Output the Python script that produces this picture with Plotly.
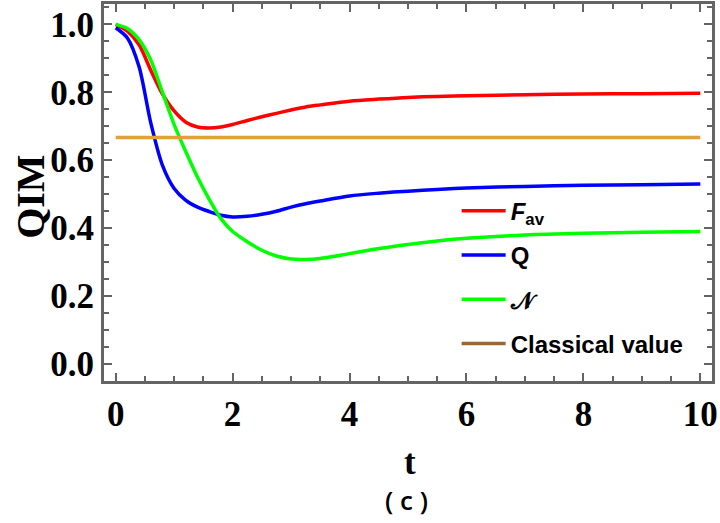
import plotly.graph_objects as go

# time grid and curves
t = [0, 0.2, 0.4, 0.6, 0.8, 1.0, 1.2, 1.4, 1.6, 1.8, 2.0, 2.25, 2.5, 2.75,
     3.0, 3.25, 3.5, 4.0, 4.5, 5.0, 5.5, 6, 7, 8, 9, 10]

f_av = [1.0, 0.98, 0.94, 0.865, 0.795, 0.745, 0.712, 0.698, 0.695, 0.698, 0.705,
        0.717, 0.728, 0.738, 0.748, 0.757, 0.763, 0.774, 0.780, 0.785, 0.788,
        0.790, 0.793, 0.795, 0.796, 0.797]

q = [0.99, 0.96, 0.875, 0.71, 0.585, 0.517, 0.482, 0.462, 0.449, 0.438, 0.433,
     0.435, 0.441, 0.450, 0.462, 0.472, 0.480, 0.495, 0.503, 0.509, 0.514,
     0.518, 0.523, 0.526, 0.528, 0.530]

neg = [1.0, 0.988, 0.955, 0.895, 0.80, 0.705, 0.625, 0.55, 0.485, 0.428, 0.39,
       0.36, 0.335, 0.318, 0.309, 0.308, 0.311, 0.325, 0.34, 0.352, 0.362,
       0.37, 0.38, 0.385, 0.388, 0.39]

t_classical = [0, 10]
classical = [0.667, 0.667]

x_ticks = [0, 2, 4, 6, 8, 10]
y_ticks = [0.0, 0.2, 0.4, 0.6, 0.8, 1.0]

GRAY = "#646464"
serif = dict(family="Liberation Serif", size=35, color="black", weight="bold")

fig = go.Figure()
fig.add_trace(go.Scatter(x=t, y=f_av, mode="lines", name="<i>F</i><sub>av</sub>",
                         line=dict(color="#FF0000", width=3.5, shape="spline", smoothing=0.8),
                         legendgroup="a"))
fig.add_trace(go.Scatter(x=t, y=q, mode="lines", name="Q",
                         line=dict(color="#0000FF", width=3.5, shape="spline", smoothing=0.8),
                         legendgroup="b"))
fig.add_trace(go.Scatter(x=t, y=neg, mode="lines", name="\U0001D4A9",
                         line=dict(color="#00FF00", width=3.5, shape="spline", smoothing=0.8),
                         legendgroup="c"))
fig.add_trace(go.Scatter(x=t_classical, y=classical, mode="lines", showlegend=False,
                         line=dict(color="#E1A03A", width=3.5)))
# legend swatch for the classical value is brown in the original
fig.add_trace(go.Scatter(x=[None], y=[None], mode="lines", name="Classical value",
                         line=dict(color="#9A6633", width=3.5), legendgroup="d"))

axis_common = dict(
    showline=True, linewidth=3, linecolor=GRAY, mirror="allticks",
    ticks="inside", ticklen=8, tickwidth=2, tickcolor=GRAY,
    showgrid=False, zeroline=False, tickfont=serif,
    automargin=False, ticklabeloverflow="allow",
)

fig.update_xaxes(range=[-0.2, 10.2], tickvals=x_ticks, ticktext=[str(v) for v in x_ticks],
                 minor=dict(dtick=0.5, ticks="inside", ticklen=5, tickwidth=2, tickcolor=GRAY),
                 **axis_common)
fig.update_yaxes(range=[-0.05, 1.06], tickvals=y_ticks, ticktext=["%.1f" % v for v in y_ticks],
                 minor=dict(dtick=0.05, ticks="inside", ticklen=5, tickwidth=2, tickcolor=GRAY),
                 **axis_common)

fig.update_layout(
    width=720, height=523,
    margin=dict(l=104, r=8, t=4, b=142),
    paper_bgcolor="white", plot_bgcolor="white",
    legend=dict(x=0.58, y=0.51, xanchor="left", yanchor="top",
                bgcolor="rgba(0,0,0,0)", tracegroupgap=10, itemwidth=44,
                font=dict(family="Liberation Sans", size=24, color="black", weight="bold")),
    annotations=[
        dict(text="QIM", xref="paper", yref="paper", x=-0.122, y=0.488,
             textangle=-90, showarrow=False, xanchor="center", yanchor="middle",
             font=dict(family="Liberation Serif", size=40, color="black", weight="bold")),
        dict(text="t", xref="paper", yref="paper", x=0.503, y=-0.2175,
             showarrow=False, xanchor="center", yanchor="middle",
             font=dict(family="Liberation Serif", size=35, color="black", weight="bold")),
        dict(text="( c )", xref="paper", yref="paper", x=0.498, y=-0.316,
             showarrow=False, xanchor="center", yanchor="middle",
             font=dict(family="Open Sans", size=26, color="black", weight=600)),
    ],
)

# drop the default 8px page margin so the figure sits at the window corner
fig.write_html("out.html", config={"displayModeBar": False},
               post_script="document.body.style.margin='0';")
